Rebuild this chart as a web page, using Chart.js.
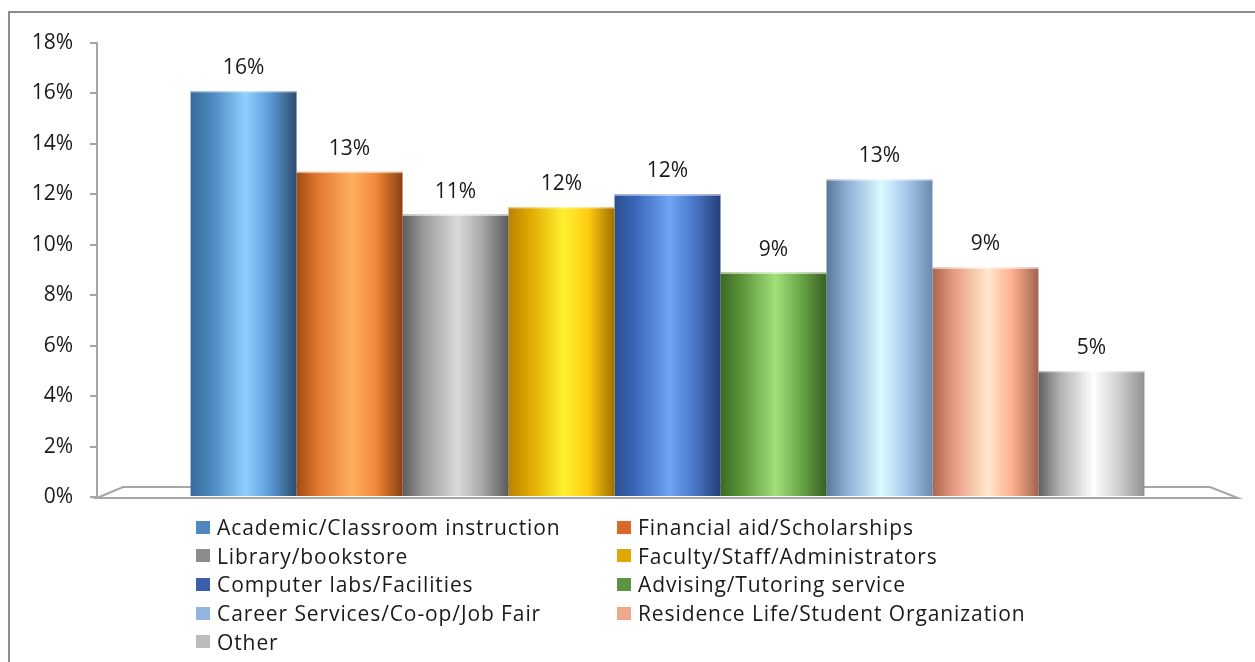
<!DOCTYPE html>
<html>
<head>
<meta charset="utf-8">
<script src="https://cdn.jsdelivr.net/npm/chart.js@4.4.1/dist/chart.umd.min.js"></script>
<style>
    html, body { margin: 0; padding: 0; background: #fff; overflow: hidden; }
    body { width: 1255px; height: 662px; position: relative; font-family: 'Open Sans', sans-serif; }
    #frame {
        position: absolute; left: 8px; top: 11px; width: 1280px; height: 700px;
        border: 2px solid #8c8c8c; box-shadow: 1px 1px 2px rgba(0,0,0,0.15);
    }
    #wrap { position: absolute; left: 0; top: 0; width: 1255px; height: 662px; }
    #legend {
        position: absolute; left: 196px; top: 513px;
        display: grid; grid-template-columns: 421px auto; grid-auto-rows: 28.6px;
        font-size: 21px; letter-spacing: 0.9px; color: #1a1a1a;
    }
    .legend-item { display: flex; align-items: center; white-space: nowrap; }
    .swatch { width: 14px; height: 13px; margin-right: 7px; flex: none; }
</style>
</head>
<body>
<div id="frame"></div>
<div id="wrap"><canvas id="chart" width="1255" height="662"></canvas></div>
<div id="legend"></div>

<script>
// Data
const categories = [
    'Academic/Classroom instruction',
    'Financial aid/Scholarships',
    'Library/bookstore',
    'Faculty/Staff/Administrators',
    'Computer labs/Facilities',
    'Advising/Tutoring service',
    'Career Services/Co-op/Job Fair',
    'Residence Life/Student Organization',
    'Other'
];
const shares = [16.1, 12.9, 11.2, 11.5, 12.0, 8.9, 12.6, 9.1, 5.0];
const yTicks = [0, 2, 4, 6, 8, 10, 12, 14, 16, 18];

// Styles
const legendColors = ['#4f87c0', '#d8692a', '#8c8c8c', '#e0a800', '#3a5ea8', '#5a9440', '#94b6de', '#f0a88c', '#bcbcbc'];
const barShades = [
    ['#3a6a9a', '#4a88c0', '#90cfff', '#5b9bd8', '#2d4d6c'],
    ['#a24a10', '#e07830', '#ffae60', '#f08838', '#8a4010'],
    ['#5c5c5c', '#9a9a9a', '#dadada', '#a8a8a8', '#5a5a5a'],
    ['#b88400', '#e0a800', '#fff030', '#ffcc10', '#a07000'],
    ['#2c4e90', '#3a66b8', '#70a4f4', '#4a78c8', '#243f78'],
    ['#3c6a26', '#5a9538', '#a0e07a', '#6aa848', '#3a6024'],
    ['#5a7898', '#90b0d8', '#d8fbff', '#a8c8ec', '#6a8ab0'],
    ['#a86650', '#e89a80', '#ffe8cc', '#ffb090', '#a06450'],
    ['#606060', '#b0b0b0', '#ffffff', '#d0d0d0', '#909090']
];
const shadeStops = [0, 0.2, 0.52, 0.75, 1];
const CAT_PCT = 0.836;
const FONT = "'Open Sans', sans-serif";

// Cylinder-like horizontal gradient for each bar
function barGradient(context) {
    const chart = context.chart;
    const i = context.datasetIndex;
    if (!chart.chartArea || !chart.scales.x) return legendColors[i];
    const xs = chart.scales.x;
    const n = chart.data.datasets.length;
    const full = (xs.right - xs.left) * CAT_PCT;
    const left = xs.getPixelForValue(0) - full / 2 + i * full / n;
    const g = chart.ctx.createLinearGradient(left, 0, left + full / n, 0);
    barShades[i].forEach((c, k) => g.addColorStop(shadeStops[k], c));
    return g;
}

// 3D-ish floor under the bars
const floorPlugin = {
    id: 'floor',
    beforeDatasetsDraw(chart) {
        const { ctx, chartArea } = chart;
        ctx.save();
        ctx.strokeStyle = '#a6a6a6';
        ctx.lineWidth = 2;
        ctx.beginPath();
        ctx.moveTo(chartArea.left, chartArea.bottom + 1);
        ctx.lineTo(chartArea.left + 26, chartArea.bottom - 10);
        ctx.lineTo(chartArea.right - 28, chartArea.bottom - 10);
        ctx.lineTo(chartArea.right, chartArea.bottom + 1);
        ctx.closePath();
        ctx.stroke();
        ctx.restore();
    }
};

// Light rim on bar tops and percent labels above bars
const valueLabels = {
    id: 'valueLabels',
    afterDatasetsDraw(chart) {
        const { ctx } = chart;
        ctx.save();
        ctx.font = '21px ' + FONT;
        ctx.fillStyle = '#1a1a1a';
        ctx.textAlign = 'center';
        ctx.textBaseline = 'alphabetic';
        chart.data.datasets.forEach((ds, i) => {
            const el = chart.getDatasetMeta(i).data[0];
            if (!el) return;
            ctx.fillStyle = 'rgba(255,255,255,0.55)';
            ctx.fillRect(el.x - el.width / 2, el.y, el.width, 1.5);
            ctx.fillStyle = '#1a1a1a';
            ctx.fillText(Math.round(ds.data[0]) + '%', el.x, el.y - 17);
        });
        ctx.restore();
    }
};

const chart = new Chart(document.getElementById('chart'), {
    type: 'bar',
    data: {
        labels: [''],
        datasets: categories.map((name, i) => ({
            label: name,
            data: [shares[i]],
            backgroundColor: barGradient,
            borderWidth: 0,
            categoryPercentage: CAT_PCT,
            barPercentage: 1
        }))
    },
    options: {
        responsive: false,
        animation: false,
        layout: { padding: { top: 43, right: 17, bottom: 165, left: 0 } },
        plugins: {
            legend: { display: false },
            tooltip: { enabled: false }
        },
        scales: {
            x: { display: false },
            y: {
                min: yTicks[0],
                max: yTicks[yTicks.length - 1],
                afterFit: s => { s.width = 97; },
                afterBuildTicks: s => { s.ticks = yTicks.map(v => ({ value: v })); },
                border: { color: '#a6a6a6', width: 2 },
                grid: { drawOnChartArea: false, color: '#a6a6a6', tickLength: 7, lineWidth: 2 },
                ticks: {
                    color: '#1a1a1a',
                    font: { family: FONT, size: 21 },
                    padding: 17,
                    callback: v => v + '%'
                }
            }
        }
    },
    plugins: [floorPlugin, valueLabels]
});

// HTML legend in two columns, row-major like the original
const legendEl = document.getElementById('legend');
legendEl.innerHTML = chart.data.datasets.map((ds, i) => `
    <div class="legend-item"><span class="swatch" style="background:${legendColors[i]}"></span>${ds.label}</div>
`).join('');
</script>
</body>
</html>
